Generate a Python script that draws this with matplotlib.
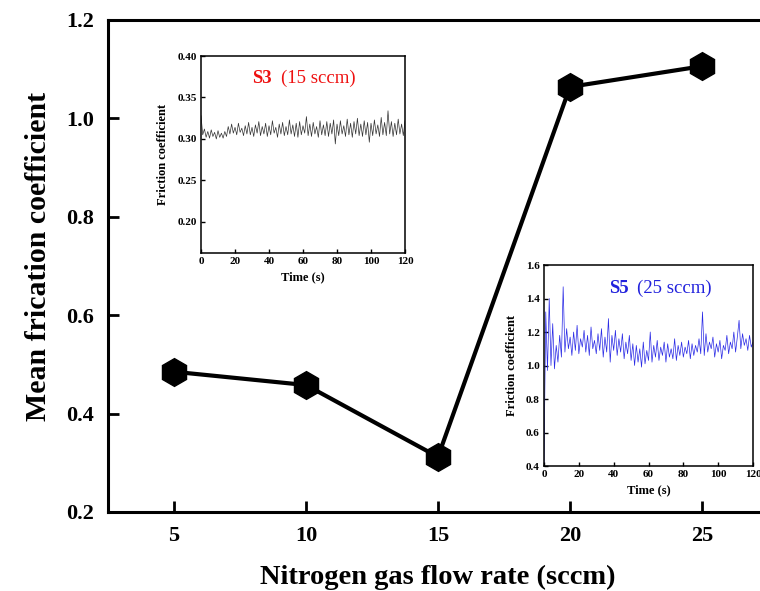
import numpy as np
import matplotlib.pyplot as plt

plt.rcParams['font.family'] = ['Liberation Serif', 'DejaVu Serif']
plt.rcParams['font.weight'] = 'bold'

# main plot data
flow_rate = [5, 10, 15, 20, 25]
mean_cof = [0.485, 0.458, 0.312, 1.064, 1.106]

# inset S3 (15 sccm) friction trace, one sample per second
s3_cof = [0.328, 0.305, 0.312, 0.302, 0.309, 0.301, 0.311, 0.303, 0.308, 0.300,
          0.310, 0.302, 0.307, 0.301, 0.309, 0.303, 0.315, 0.306, 0.318, 0.307,
          0.314, 0.305, 0.319, 0.308, 0.313, 0.304, 0.316, 0.306, 0.320, 0.305,
          0.314, 0.303, 0.317, 0.307, 0.321, 0.304, 0.315, 0.306, 0.319, 0.303,
          0.316, 0.305, 0.322, 0.307, 0.314, 0.302, 0.318, 0.306, 0.320, 0.304,
          0.315, 0.305, 0.323, 0.306, 0.317, 0.303, 0.319, 0.302, 0.321, 0.305,
          0.316, 0.307, 0.327, 0.304, 0.318, 0.303, 0.320, 0.306, 0.315, 0.302,
          0.322, 0.305, 0.317, 0.304, 0.321, 0.303, 0.319, 0.306, 0.323, 0.294,
          0.318, 0.304, 0.322, 0.306, 0.316, 0.303, 0.324, 0.305, 0.319, 0.302,
          0.321, 0.306, 0.325, 0.304, 0.318, 0.303, 0.322, 0.305, 0.320, 0.296,
          0.319, 0.304, 0.323, 0.306, 0.317, 0.303, 0.326, 0.305, 0.320, 0.304,
          0.334, 0.306, 0.321, 0.303, 0.319, 0.305, 0.324, 0.306, 0.318, 0.304,
          0.322]

# inset S5 (25 sccm) friction trace, one sample per second
s5_cof = [0.42, 1.32, 0.97, 1.40, 1.00, 1.25, 0.98, 1.12, 1.02, 1.18,
          1.05, 1.47, 1.08, 1.22, 1.10, 1.17, 1.06, 1.20, 1.09, 1.24,
          1.07, 1.16, 1.11, 1.21, 1.08, 1.18, 1.06, 1.23, 1.10, 1.15,
          1.07, 1.19, 1.09, 1.22, 1.05, 1.17, 1.08, 1.28, 1.02, 1.18,
          1.09, 1.21, 1.06, 1.16, 1.08, 1.19, 1.04, 1.14, 1.07, 1.18,
          1.03, 1.13, 1.00, 1.12, 1.02, 1.10, 0.99, 1.14, 1.01, 1.09,
          1.03, 1.20, 1.02, 1.12, 1.05, 1.15, 1.03, 1.11, 1.06, 1.14,
          1.02, 1.13, 1.05, 1.10, 1.04, 1.16, 1.03, 1.12, 1.06, 1.14,
          1.05, 1.11, 1.07, 1.15, 1.04, 1.13, 1.06, 1.12, 1.08, 1.16,
          1.07, 1.32, 1.06, 1.19, 1.08, 1.14, 1.10, 1.17, 1.05, 1.13,
          1.08, 1.15, 1.04, 1.12, 1.09, 1.18, 1.07, 1.14, 1.10, 1.20,
          1.08, 1.17, 1.27, 1.10, 1.19, 1.12, 1.16, 1.09, 1.18, 1.11,
          1.14]

t3 = np.linspace(0, 120, len(s3_cof))
t5 = np.linspace(0, 120, len(s5_cof))

fig = plt.figure(figsize=(7.6, 5.91), dpi=100)

# main axes (right spine falls outside the figure, as in the original crop)
ax = fig.add_axes([0.1421, 0.1337, 0.8684, 0.8325])
ax.plot(flow_rate, mean_cof, color='black', lw=3, marker='h', ms=20,
        mec='black', mfc='black', zorder=3)
ax.set_xlim(2.5, 27.5)
ax.set_ylim(0.2, 1.2)
ax.set_xticks(flow_rate)
ax.set_yticks([0.2, 0.4, 0.6, 0.8, 1.0, 1.2])
ax.tick_params(direction='in', length=8, width=2, labelsize=16, pad=10,
               top=False, right=False)
for s in ax.spines.values():
    s.set_linewidth(2.2)
ax.set_xlabel('Nitrogen gas flow rate (sccm)', fontsize=20.5, fontweight='bold', labelpad=13.5)
ax.set_ylabel('Mean frication coefficient', fontsize=21.5, fontweight='bold')
ax.yaxis.set_label_coords(-0.085, 0.52)

# inset S3
ax1 = fig.add_axes([0.2645, 0.5719, 0.2684, 0.3333])
ax1.plot(t3, s3_cof, color='#333333', lw=0.5)
ax1.set_xlim(0, 120)
ax1.set_ylim(0.1625, 0.40)
ax1.set_xticks([0, 20, 40, 60, 80, 100, 120])
ax1.set_yticks([0.20, 0.25, 0.30, 0.35, 0.40])
ax1.set_yticklabels(['0.20', '0.25', '0.30', '0.35', '0.40'])
ax1.tick_params(direction='in', length=3, width=1, labelsize=8, pad=3)
for s in ax1.spines.values():
    s.set_linewidth(1.1)
ax1.set_xlabel('Time (s)', fontsize=9, fontweight='bold', labelpad=4)
ax1.set_ylabel('Friction coefficient', fontsize=9, fontweight='bold', labelpad=6)
ax1.text(0.25, 0.885, 'S3', transform=ax1.transAxes, color='#ee1111',
         fontsize=13.5, fontweight='bold', ha='left', va='center')
ax1.text(0.39, 0.885, '(15 sccm)', transform=ax1.transAxes, color='#ee1111',
         fontsize=13.5, fontweight='normal', ha='left', va='center')

# inset S5
ax2 = fig.add_axes([0.7158, 0.2115, 0.275, 0.3401])
ax2.plot(t5, s5_cof, color='#2a2ae6', lw=0.5)
ax2.set_xlim(0, 120)
ax2.set_ylim(0.4, 1.6)
ax2.set_xticks([0, 20, 40, 60, 80, 100, 120])
ax2.set_yticks([0.4, 0.6, 0.8, 1.0, 1.2, 1.4, 1.6])
ax2.tick_params(direction='in', length=3, width=1, labelsize=8, pad=3)
for s in ax2.spines.values():
    s.set_linewidth(1.1)
ax2.set_xlabel('Time (s)', fontsize=9, fontweight='bold', labelpad=4)
ax2.set_ylabel('Friction coefficient', fontsize=9, fontweight='bold', labelpad=6)
ax2.text(0.31, 0.885, 'S5', transform=ax2.transAxes, color='#2222dd',
         fontsize=13.5, fontweight='bold', ha='left', va='center')
ax2.text(0.445, 0.885, '(25 sccm)', transform=ax2.transAxes, color='#2222dd',
         fontsize=13.5, fontweight='normal', ha='left', va='center')

fig.savefig('out.png', dpi=100)
